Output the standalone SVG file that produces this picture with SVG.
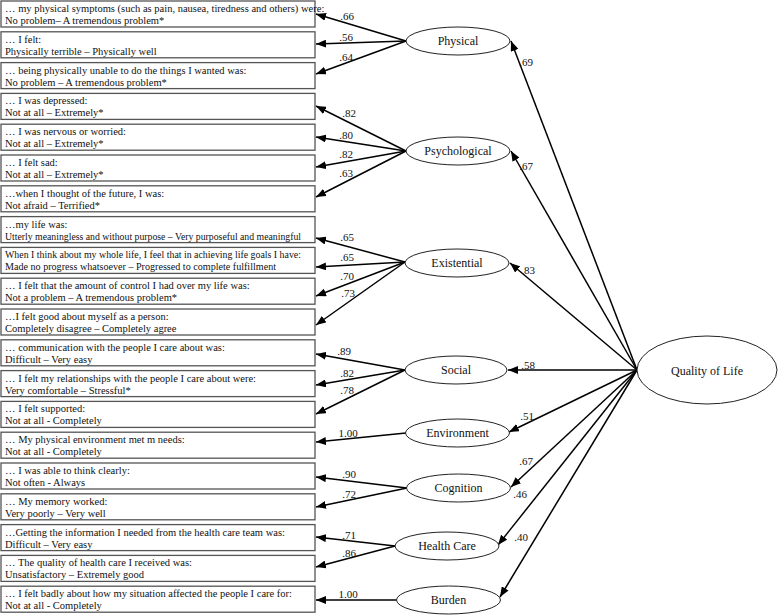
<svg xmlns="http://www.w3.org/2000/svg" width="778" height="615" viewBox="0 0 778 615" font-family="'Liberation Serif', 'Times New Roman', 'DejaVu Serif', serif">
<style>
.box rect{fill:#fff;stroke:#555;stroke-width:1.3}
.box text{font-size:10.5px;fill:#111}
.lat ellipse{fill:#fff;stroke:#222;stroke-width:1}
.lat text{font-size:12px;text-anchor:middle;fill:#111}
.conn line{stroke:#000;stroke-width:1.5;marker-end:url(#ah)}
.lbl{font-size:11px;text-anchor:middle;fill:#111}
</style>
<defs>
<marker id="ah" markerUnits="userSpaceOnUse" markerWidth="11" markerHeight="8" refX="10" refY="4" orient="auto"><path d="M0,0 L10,4 L0,8 z" fill="#000"/></marker>
</defs>
<rect width="778" height="615" fill="#fff"/>

<g id="i1" class="box"><rect x="1" y="1" width="314" height="26"/><text x="5" y="12">… my physical symptoms (such as pain, nausea, tiredness and others) were:</text><text x="5" y="24">No problem– A tremendous problem*</text></g>
<g id="i2" class="box"><rect x="1" y="31.8" width="314" height="26"/><text x="5" y="42.8">… I felt:</text><text x="5" y="54.8">Physically terrible – Physically well</text></g>
<g id="i3" class="box"><rect x="1" y="62.6" width="314" height="26"/><text x="5" y="73.6">… being physically unable to do the things I wanted was:</text><text x="5" y="85.6">No problem – A tremendous problem*</text></g>
<g id="i4" class="box"><rect x="1" y="93.4" width="314" height="26"/><text x="5" y="104.4">… I was depressed:</text><text x="5" y="116.4">Not at all – Extremely*</text></g>
<g id="i5" class="box"><rect x="1" y="124.2" width="314" height="26"/><text x="5" y="135.2">… I was nervous or worried:</text><text x="5" y="147.2">Not at all – Extremely*</text></g>
<g id="i6" class="box"><rect x="1" y="155" width="314" height="26"/><text x="5" y="166">… I felt sad:</text><text x="5" y="178">Not at all – Extremely*</text></g>
<g id="i7" class="box"><rect x="1" y="185.8" width="314" height="26"/><text x="5" y="196.8">…when I thought of the future, I was:</text><text x="5" y="208.8">Not afraid – Terrified*</text></g>
<g id="i8" class="box"><rect x="1" y="216.6" width="314" height="26"/><text x="5" y="227.6">…my life was:</text><text x="5" y="239.6" textLength="296" lengthAdjust="spacingAndGlyphs">Utterly meaningless and without purpose – Very purposeful and meaningful</text></g>
<g id="i9" class="box"><rect x="1" y="247.4" width="314" height="26"/><text x="5" y="258.4" textLength="296" lengthAdjust="spacingAndGlyphs">When I think about my whole life, I feel that in achieving life goals I have:</text><text x="5" y="270.4" textLength="271" lengthAdjust="spacingAndGlyphs">Made no progress whatsoever – Progressed to complete fulfillment</text></g>
<g id="i10" class="box"><rect x="1" y="278.2" width="314" height="26"/><text x="5" y="289.2">… I felt that the amount of control I had over my life was:</text><text x="5" y="301.2">Not a problem – A tremendous problem*</text></g>
<g id="i11" class="box"><rect x="1" y="309" width="314" height="26"/><text x="5" y="320">…I felt good about myself as a person:</text><text x="5" y="332">Completely disagree – Completely agree</text></g>
<g id="i12" class="box"><rect x="1" y="339.8" width="314" height="26"/><text x="5" y="350.8">… communication with the people I care about was:</text><text x="5" y="362.8">Difficult – Very easy</text></g>
<g id="i13" class="box"><rect x="1" y="370.6" width="314" height="26"/><text x="5" y="381.6">… I felt my relationships with the people I care about were:</text><text x="5" y="393.6">Very comfortable – Stressful*</text></g>
<g id="i14" class="box"><rect x="1" y="401.4" width="314" height="26"/><text x="5" y="412.4">… I felt supported:</text><text x="5" y="424.4">Not at all - Completely</text></g>
<g id="i15" class="box"><rect x="1" y="432.2" width="314" height="26"/><text x="5" y="443.2">… My physical environment met m needs:</text><text x="5" y="455.2">Not at all - Completely</text></g>
<g id="i16" class="box"><rect x="1" y="463" width="314" height="26"/><text x="5" y="474">… I was able to think clearly:</text><text x="5" y="486">Not often - Always</text></g>
<g id="i17" class="box"><rect x="1" y="493.8" width="314" height="26"/><text x="5" y="504.8">… My memory worked:</text><text x="5" y="516.8">Very poorly – Very well</text></g>
<g id="i18" class="box"><rect x="1" y="524.6" width="314" height="26"/><text x="5" y="535.6">…Getting the information I needed from the health care team was:</text><text x="5" y="547.6">Difficult – Very easy</text></g>
<g id="i19" class="box"><rect x="1" y="555.4" width="314" height="26"/><text x="5" y="566.4">… The quality of health care I received was:</text><text x="5" y="578.4">Unsatisfactory – Extremely good</text></g>
<g id="i20" class="box"><rect x="1" y="586.2" width="314" height="26"/><text x="5" y="597.2">… I felt badly about how my situation affected the people I care for:</text><text x="5" y="609.2">Not at all - Completely</text></g>

<g id="connectors" class="conn">
<line x1="406" y1="41" x2="316" y2="14"/>
<line x1="406" y1="41" x2="316" y2="44"/>
<line x1="406" y1="41" x2="316" y2="74"/>
<line x1="406" y1="151" x2="316" y2="106"/>
<line x1="406" y1="151" x2="316" y2="137"/>
<line x1="406" y1="151" x2="316" y2="167"/>
<line x1="406" y1="151" x2="316" y2="197"/>
<line x1="405" y1="262" x2="316" y2="238"/>
<line x1="405" y1="262" x2="316" y2="267"/>
<line x1="405" y1="262" x2="316" y2="296"/>
<line x1="405" y1="262" x2="316" y2="325"/>
<line x1="405" y1="370" x2="316" y2="354"/>
<line x1="405" y1="370" x2="316" y2="385"/>
<line x1="405" y1="370" x2="316" y2="414"/>
<line x1="406" y1="433" x2="316" y2="442"/>
<line x1="407" y1="488" x2="316" y2="477"/>
<line x1="407" y1="488" x2="316" y2="507"/>
<line x1="395" y1="546" x2="316" y2="537"/>
<line x1="395" y1="546" x2="316" y2="567"/>
<line x1="397" y1="600" x2="316" y2="600"/>
<line x1="637" y1="370" x2="511" y2="41"/>
<line x1="637" y1="370" x2="511" y2="151"/>
<line x1="637" y1="370" x2="510" y2="263"/>
<line x1="637" y1="370" x2="508" y2="370"/>
<line x1="637" y1="370" x2="509" y2="432"/>
<line x1="637" y1="370" x2="511" y2="487"/>
<line x1="637" y1="370" x2="498" y2="545"/>
<line x1="637" y1="370" x2="500" y2="597"/>
</g>

<g id="labels" class="lbl">
<text x="347" y="20">.66</text>
<text x="346" y="41">.56</text>
<text x="346" y="61">.64</text>
<text x="349" y="117">.82</text>
<text x="346" y="139">.80</text>
<text x="346" y="158">.82</text>
<text x="346" y="177">.63</text>
<text x="347" y="241">.65</text>
<text x="347" y="261">.65</text>
<text x="347" y="280">.70</text>
<text x="348" y="297">.73</text>
<text x="344" y="355">.89</text>
<text x="347" y="377">.82</text>
<text x="347" y="394">.78</text>
<text x="348" y="437">1.00</text>
<text x="349" y="478">.90</text>
<text x="349" y="498">.72</text>
<text x="349" y="539">.71</text>
<text x="349" y="557">.86</text>
<text x="348" y="598">1.00</text>
<text x="526" y="66">.69</text>
<text x="526" y="170">.67</text>
<text x="528" y="274">.83</text>
<text x="528" y="369">.58</text>
<text x="527" y="420">.51</text>
<text x="526" y="465">.67</text>
<text x="520" y="498">.46</text>
<text x="521" y="541">.40</text>
</g>

<g id="physical" class="lat"><ellipse cx="458" cy="41" rx="52" ry="14"/><text x="458" y="45">Physical</text></g>
<g id="psychological" class="lat"><ellipse cx="458" cy="151" rx="52" ry="14"/><text x="458" y="155">Psychological</text></g>
<g id="existential" class="lat"><ellipse cx="457" cy="263" rx="52" ry="14"/><text x="457" y="267">Existential</text></g>
<g id="social" class="lat"><ellipse cx="456" cy="370" rx="51" ry="14"/><text x="456" y="374">Social</text></g>
<g id="environment" class="lat"><ellipse cx="457.5" cy="433" rx="52" ry="14"/><text x="457.5" y="437">Environment</text></g>
<g id="cognition" class="lat"><ellipse cx="458.5" cy="488" rx="52" ry="14"/><text x="458.5" y="492">Cognition</text></g>
<g id="healthcare" class="lat"><ellipse cx="447" cy="546" rx="52" ry="14"/><text x="447" y="550">Health Care</text></g>
<g id="burden" class="lat"><ellipse cx="448.5" cy="600" rx="52" ry="14"/><text x="448.5" y="604">Burden</text></g>
<g id="qol" class="lat"><ellipse cx="707" cy="370" rx="70" ry="34"/><text x="707" y="375">Quality of Life</text></g>
</svg>
